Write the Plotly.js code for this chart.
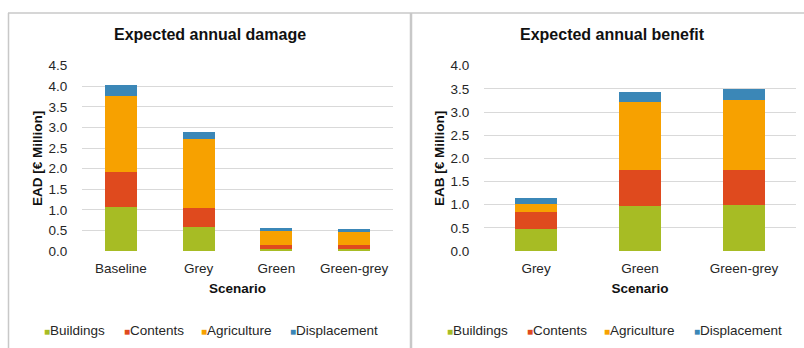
<!DOCTYPE html>
<html>
<head>
<meta charset="utf-8">
<script src="https://cdn.plot.ly/plotly-3.0.1.min.js"></script>
<style>
html,body{margin:0;padding:0;background:#fff;}
#chart{width:804px;height:348px;}
</style>
</head>
<body>
<div id="chart"></div>
<script>
// ---- Data ----
const eadScenarios = ["Baseline", "Grey", "Green", "Green-grey"];
const eadBuildings    = [1.06, 0.58, 0.06, 0.05];
const eadContents     = [0.86, 0.47, 0.09, 0.09];
const eadAgriculture  = [1.85, 1.68, 0.34, 0.33];
const eadDisplacement = [0.25, 0.16, 0.06, 0.06];

const eabScenarios = ["Grey", "Green", "Green-grey"];
const eabBuildings    = [0.47, 0.97, 0.99];
const eabContents     = [0.38, 0.78, 0.76];
const eabAgriculture  = [0.17, 1.47, 1.52];
const eabDisplacement = [0.12, 0.22, 0.22];

const seriesNames = ["Buildings", "Contents", "Agriculture", "Displacement"];
const seriesColors = ["#a7bc24", "#df4a1e", "#f7a100", "#3b87b7"];

const leftTitle = "Expected annual damage";
const rightTitle = "Expected annual benefit";
const leftYTitle = "EAD [€ Million]";
const rightYTitle = "EAB [€ Million]";
const xTitle = "Scenario";

// ---- Traces ----
const eadValues = [eadBuildings, eadContents, eadAgriculture, eadDisplacement];
const eabValues = [eabBuildings, eabContents, eabAgriculture, eabDisplacement];

const traces = [];
seriesNames.forEach((n, i) => {
  traces.push({
    type: "bar", name: n, x: eadScenarios, y: eadValues[i],
    xaxis: "x", yaxis: "y", showlegend: false,
    marker: {color: seriesColors[i], line: {width: 0}}, hoverinfo: "skip"
  });
});
seriesNames.forEach((n, i) => {
  traces.push({
    type: "bar", name: n, x: eabScenarios, y: eabValues[i],
    xaxis: "x2", yaxis: "y2", showlegend: false,
    marker: {color: seriesColors[i], line: {width: 0}}, hoverinfo: "skip"
  });
});

const W = 804, H = 348;
const px = v => v / W;
const py = v => 1 - v / H;

const FAM = "Liberation Sans, Arial, sans-serif";
const font = {family: FAM, size: 13.5, color: "#262626"};
const bold = {family: FAM, size: 13.5, color: "#111", weight: "bold"};

function xax(domain, anchor) {
  return {
    domain: domain, anchor: anchor, type: "category", showgrid: false, zeroline: false, showline: false,
    ticks: "outside", ticklen: 5, tickcolor: "rgba(0,0,0,0)", automargin: false,
    tickfont: font, fixedrange: true,
    title: {text: "<b>" + xTitle + "</b>", font: bold, standoff: 8}
  };
}
function yax(domain, anchor, range, title) {
  return {
    domain: domain, anchor: anchor, range: range, dtick: 0.5, tickformat: ".1f",
    showgrid: true, gridcolor: "#d9d9d9", gridwidth: 1, zeroline: false, showline: false,
    ticks: "outside", ticklen: 11, tickcolor: "rgba(0,0,0,0)", automargin: false,
    tickfont: font, fixedrange: true,
    title: {text: "<b>" + title + "</b>", font: bold, standoff: 2}
  };
}

const yDom = [(H - 251) / H, (H - 65.7) / H];

// legend entries (text annotations with coloured square glyphs)
const legendLeftX = [43, 123, 200, 289];
const legendRightX = [446, 526, 603, 693];
const legendY = 330;
const legendAnns = [];
[legendLeftX, legendRightX].forEach(xs => {
  seriesNames.forEach((n, i) => {
    legendAnns.push({
      text: '<span style="color:' + seriesColors[i] + ';font-size:10px">■</span>' + n,
      xref: "paper", yref: "paper", x: px(xs[i]), y: py(legendY),
      xanchor: "left", yanchor: "middle", showarrow: false, borderpad: 0,
      font: font
    });
  });
});

const layout = {
  width: W, height: H,
  margin: {l: 0, r: 0, t: 0, b: 0},
  paper_bgcolor: "#fff", plot_bgcolor: "#fff",
  barmode: "stack",
  bargap: 0.59,
  font: font,
  showlegend: false,
  xaxis: xax([px(82), px(393)], "y"),
  yaxis: yax(yDom, "x", [0, 4.5], leftYTitle),
  xaxis2: xax([px(484), px(796)], "y2"),
  yaxis2: yax(yDom, "x2", [0, 4.0], rightYTitle),
  annotations: [
    {text: "<b>" + leftTitle + "</b>", xref: "paper", yref: "paper", x: px(210), y: py(35),
     xanchor: "center", yanchor: "middle", showarrow: false,
     font: {family: FAM, size: 16, color: "#111"}},
    {text: "<b>" + rightTitle + "</b>", xref: "paper", yref: "paper", x: px(612), y: py(35),
     xanchor: "center", yanchor: "middle", showarrow: false,
     font: {family: FAM, size: 16, color: "#111"}}
  ].concat(legendAnns),
  shapes: [
    {type: "line", xref: "paper", yref: "paper", x0: px(8), x1: 1, y0: py(13), y1: py(13),
     line: {color: "#c8c8c8", width: 1.5}},
    {type: "line", xref: "paper", yref: "paper", x0: px(8.5), x1: px(8.5), y0: py(13), y1: 0,
     line: {color: "#c8c8c8", width: 1.5}},
    {type: "line", xref: "paper", yref: "paper", x0: px(411), x1: px(411), y0: py(13), y1: 0,
     line: {color: "#c8c8c8", width: 2.5}}
  ]
};

Plotly.newPlot("chart", traces, layout, {staticPlot: true, displayModeBar: false});
</script>
</body>
</html>
